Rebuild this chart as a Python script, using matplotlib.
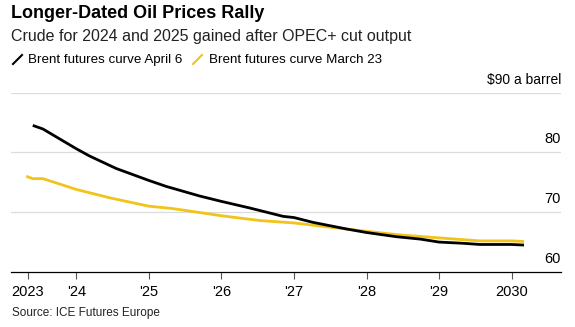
import matplotlib
matplotlib.use("Agg")
import matplotlib.pyplot as plt
from matplotlib.lines import Line2D
import matplotlib.transforms as mtransforms

plt.rcParams['font.family'] = ['Liberation Sans', 'DejaVu Sans']

# futures curves, x in fractional years
april6_x = [2023.40, 2023.54, 2024.0, 2024.18, 2024.55, 2025.0, 2025.24, 2025.70, 2026.0,
            2026.39, 2026.85, 2027.0, 2027.26, 2027.72, 2028.0, 2028.41, 2028.74, 2029.0,
            2029.33, 2029.56, 2030.0, 2030.17]
april6_y = [84.5, 83.9, 80.6, 79.4, 77.3, 75.3, 74.3, 72.7, 71.8,
            70.7, 69.3, 69.1, 68.3, 67.2, 66.6, 65.9, 65.5, 65.0,
            64.8, 64.6, 64.6, 64.5]
march23_x = [2023.31, 2023.40, 2023.54, 2024.0, 2024.46, 2025.0, 2025.33, 2026.0, 2026.53,
             2027.0, 2027.49, 2028.0, 2028.46, 2029.0, 2029.56, 2030.0, 2030.17]
march23_y = [76.0, 75.6, 75.6, 73.8, 72.4, 71.0, 70.6, 69.4, 68.6,
             68.2, 67.5, 66.8, 66.2, 65.7, 65.2, 65.2, 65.1]

xtick_pos = [2023.33, 2024, 2025, 2026, 2027, 2028, 2029, 2030]
xtick_labels = ['2023', "'24", "'25", "'26", "'27", "'28", "'29", '2030']
ytick_vals = [60, 70, 80]

W, H = 575, 327
fig = plt.figure(figsize=(W / 100, H / 100), dpi=100)
ax = fig.add_axes([11 / W, (H - 272) / H, (561 - 11) / W, (272 - 92.5) / H])

black = '#000000'
yellow = '#f0c419'

ax.plot(march23_x, march23_y, color=yellow, lw=2.0, solid_capstyle='butt')
ax.plot(april6_x, april6_y, color=black, lw=2.0, solid_capstyle='butt')

ax.set_xlim(2023.10, 2030.68)
ax.set_ylim(60, 90)

for v in [70, 80, 90]:
    ax.axhline(v, color='#dcdcdc', lw=0.9, zorder=0)

for s in ['top', 'right', 'left']:
    ax.spines[s].set_visible(False)
ax.spines['bottom'].set_color('#000000')
ax.spines['bottom'].set_linewidth(0.9)

ax.set_xticks(xtick_pos)
ax.set_xticklabels(xtick_labels)
ax.tick_params(axis='x', length=5, width=0.8, color='#555555', labelsize=10.5, pad=4)
ax.set_yticks([])

trans = mtransforms.blended_transform_factory(ax.transAxes, ax.transData)
for v in ytick_vals:
    ax.text(1.0, v + 1.0, str(v), transform=trans, ha='right', va='bottom', fontsize=10.5)
ax.text(1.0, 90.9, '$90 a barrel', transform=trans, ha='right', va='bottom', fontsize=10)

fig.text(11 / W, 1 - 14 / H, 'Longer-Dated Oil Prices Rally', fontsize=13, fontweight='bold',
         va='center', ha='left')
fig.text(11 / W, 1 - 36 / H, 'Crude for 2024 and 2025 gained after OPEC+ cut output',
         fontsize=11.5, va='center', ha='left', color='#222222')

# legend
fig.add_artist(Line2D([13 / W, 22 / W], [1 - 64 / H, 1 - 55 / H], color=black, lw=1.5))
fig.text(28 / W, 1 - 60 / H, 'Brent futures curve April 6', fontsize=9.6, va='center', ha='left')
fig.add_artist(Line2D([193 / W, 202 / W], [1 - 64 / H, 1 - 55 / H], color=yellow, lw=1.5))
fig.text(209 / W, 1 - 60 / H, 'Brent futures curve March 23', fontsize=9.6, va='center', ha='left')

fig.text(12 / W, 1 - 313 / H, 'Source: ICE Futures Europe', fontsize=8.5, va='center', ha='left',
         color='#222222')

fig.savefig('out.png', dpi=100)
